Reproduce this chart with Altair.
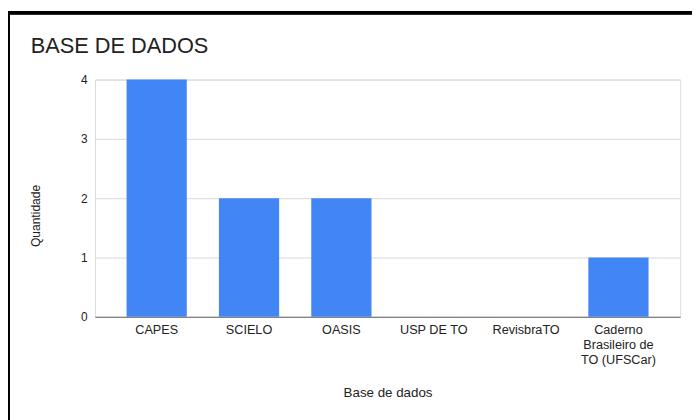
import altair as alt
import pandas as pd

categories = ["CAPES", "SCIELO", "OASIS", "USP DE TO", "RevisbraTO", "Caderno Brasileiro de TO (UFSCar)"]
values = [4, 2, 2, 0, 0, 1]
y_ticks = [0, 1, 2, 3, 4]

df = pd.DataFrame({"base": categories, "qtd": values})

FONT = "Liberation Sans"

bars = alt.Chart(df).mark_bar(color="#4285F4").encode(
    x=alt.X(
        "base:N",
        sort=categories,
        scale=alt.Scale(paddingInner=0.348, paddingOuter=0.342, round=False),
        axis=alt.Axis(
            title="Base de dados",
            titleFont=FONT,
            titleFontSize=13.5,
            titleFontWeight="normal",
            titleColor="#222222",
            titleY=77,
            titleBaseline="middle",
            labelFont=FONT,
            labelFontSize=12.8,
            labelColor="#222222",
            labelAngle=0,
            labelPadding=7,
            labelBaseline="top",
            labelLineHeight=15,
            labelExpr="datum.label == 'Caderno Brasileiro de TO (UFSCar)' ? ['Caderno', 'Brasileiro de', 'TO (UFSCar)'] : datum.label",
            ticks=False,
            domainColor="#666666",
            domainWidth=1,
            grid=False,
        ),
    ),
    y=alt.Y(
        "qtd:Q",
        scale=alt.Scale(domain=[0, 4], nice=False),
        axis=alt.Axis(
            title="Quantidade",
            titleFont=FONT,
            titleFontSize=12.2,
            titleFontWeight="normal",
            titleColor="#222222",
            titleX=-60,
            titleY=137.5,
            titleAngle=-90,
            titleAlign="center",
            titleBaseline="middle",
            values=y_ticks,
            format="d",
            labelFont=FONT,
            labelFontSize=12,
            labelColor="#222222",
            labelPadding=8,
            ticks=False,
            domain=False,
            gridColor="#dadada",
            gridWidth=1,
        ),
    ),
)

border = alt.Chart(df).mark_rect(
    fill=None, stroke="#000000", strokeWidth=3, clip=False
).encode(
    x=alt.value(-88),
    x2=alt.value(700),
    y=alt.value(-67.5),
    y2=alt.value(500),
)

chart = alt.layer(bars, border).properties(
    width=592,
    height=240,
    title=alt.TitleParams(
        "BASE DE DADOS",
        anchor="start",
        frame="group",
        font=FONT,
        fontSize=22,
        fontWeight="normal",
        color="#222222",
        baseline="alphabetic",
        dx=-65,
        offset=-64,
    ),
    autosize=alt.AutoSizeParams(type="none"),
    padding={"left": 88, "top": 70, "right": 12, "bottom": 102},
).configure_view(stroke=None).configure(background="white")

chart.save("out.html", embed_options={"renderer": "svg", "actions": False})
